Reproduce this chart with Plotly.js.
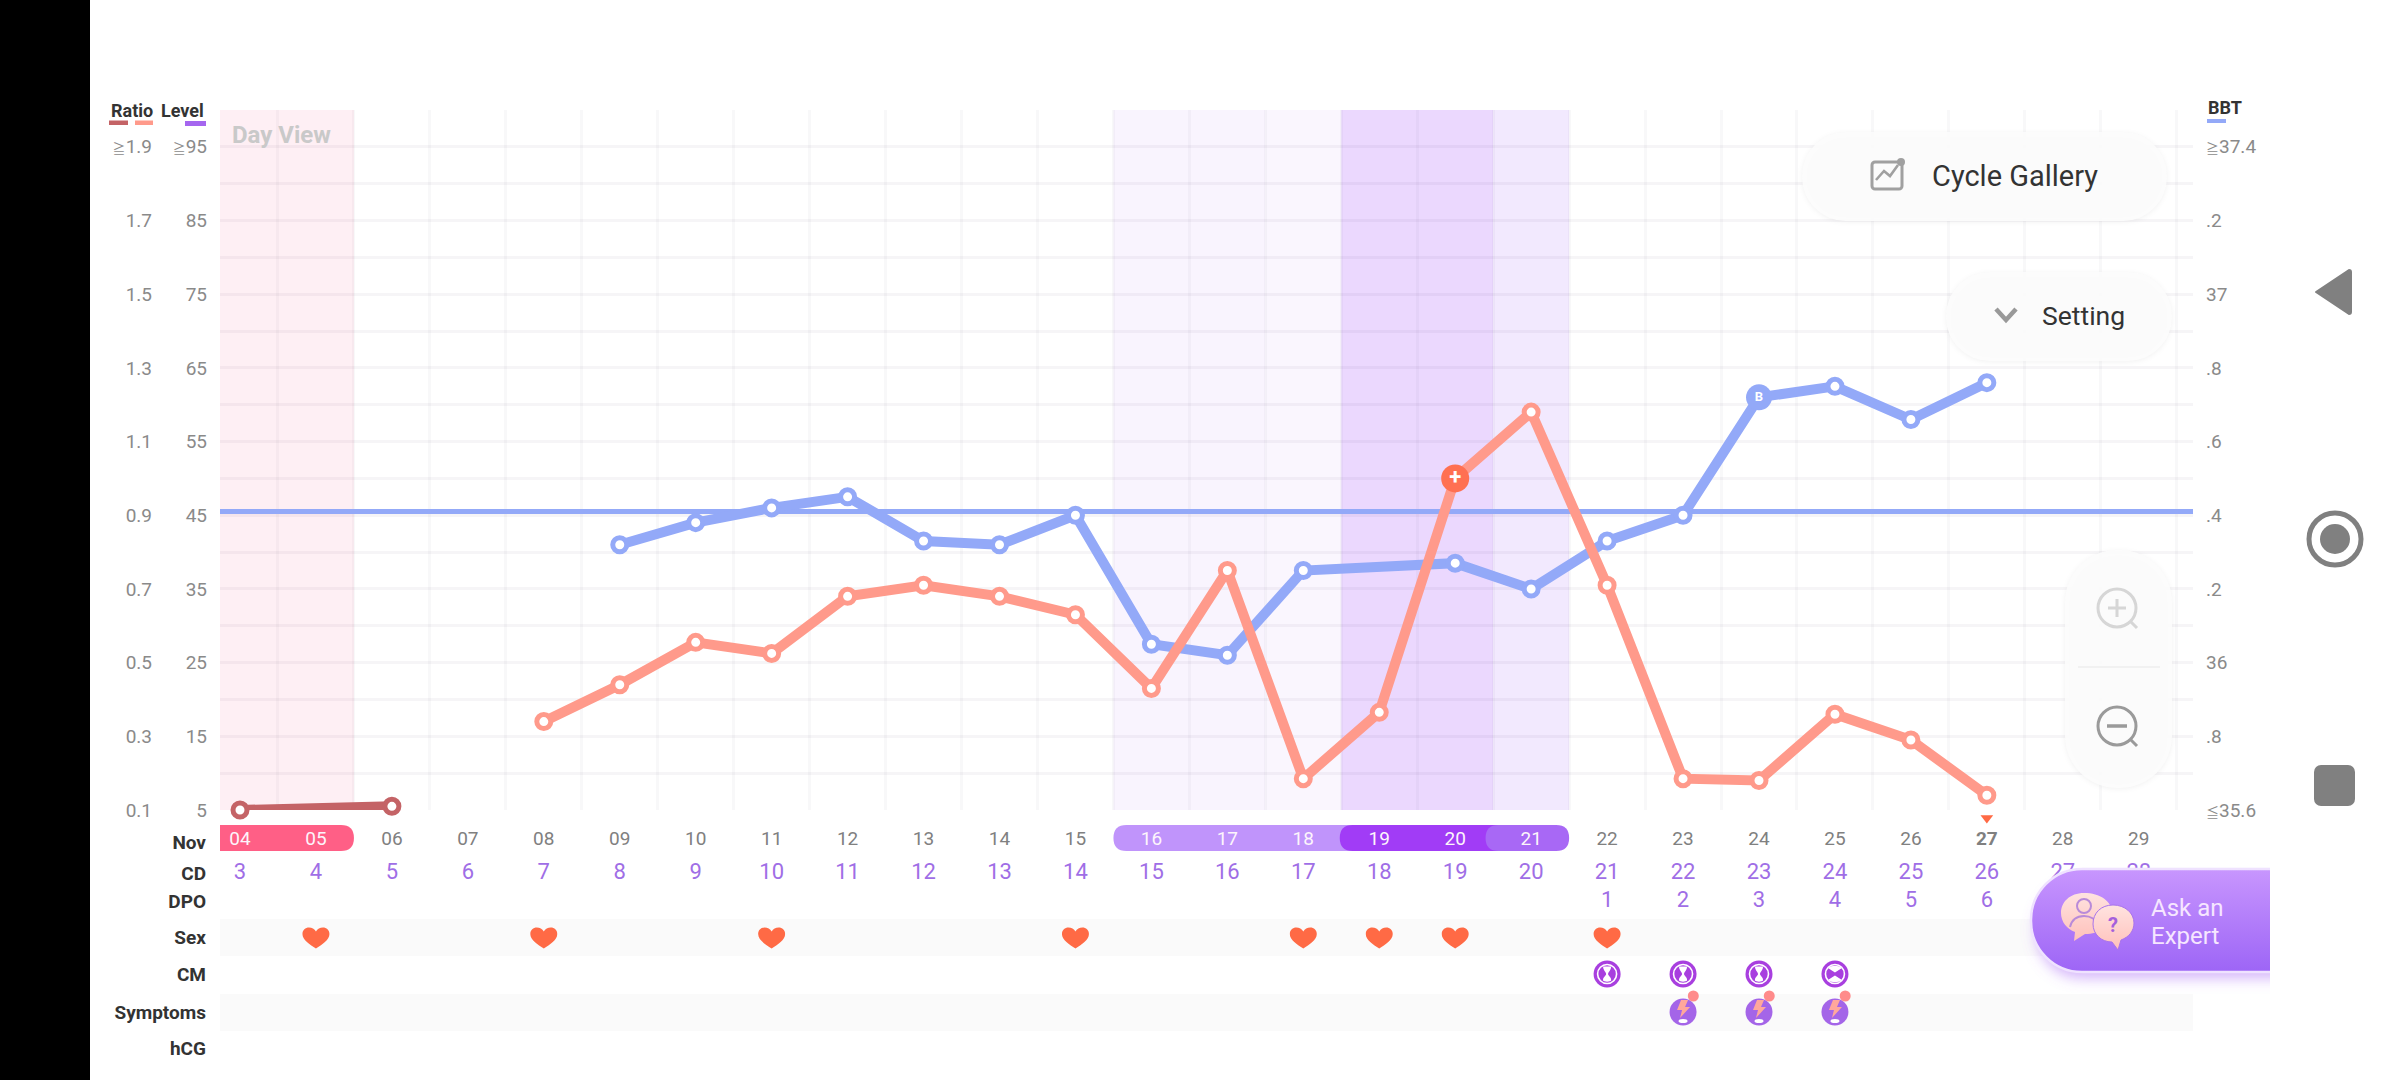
<!DOCTYPE html>
<html>
<head>
<meta charset="utf-8">
<script src="https://cdn.plot.ly/plotly-3.0.1.min.js"></script>
<style>html,body{margin:0;padding:0;background:#fff}#chart{width:2400px;height:1080px}</style>
</head>
<body>
<div id="chart"></div>
<script>
// ---------- data ----------
const days = [4,5,6,7,8,9,10,11,12,13,14,15,16,17,18,19,20,21,22,23,24,25,26,27,28,29];
const dateLabels = ['04','05','06','07','08','09','10','11','12','13','14','15','16','17','18','19','20','21','22','23','24','25','26','<b>27</b>','28','29'];
const cycleDays = [3,4,5,6,7,8,9,10,11,12,13,14,15,16,17,18,19,20,21,22,23,24,25,26,27,28];
const dpoDays = [22,23,24,25,26,27];
const dpoValues = [1,2,3,4,5,6];
const sexDays = [5,8,11,15,18,19,20,22];
const cmNarrowDays = [22,23,24];
const cmWideDays = [25];
const symptomDays = [23,24,25];
const todayDay = [27];

const ratioDarkDays = [4,6];
const ratioDark = [0.10,0.11];
const ratioDays = [8,9,10,11,12,13,14,15,16,17,18,19,20,21,22,23,24,25,26,27];
const ratioValues = [0.34,0.44,0.555,0.525,0.68,0.71,0.68,0.63,0.43,0.75,0.185,0.365,1.00,1.18,0.71,0.185,0.18,0.36,0.29,0.14];
const peakDay = [20];
const peakValue = [1.00];
const bbtDays = [9,10,11,12,13,14,15,16,17,18,20,21,22,23,24,25,26,27];
const bbtValues = [36.32,36.38,36.42,36.45,36.33,36.32,36.40,36.05,36.02,36.25,36.27,36.20,36.33,36.40,36.72,36.75,36.66,36.76];
const ovulationDay = [24];
const ovulationBbt = [36.72];
const coverLine = 36.41;

const bbtGrid = [35.6,35.7,35.8,35.9,36.0,36.1,36.2,36.3,36.4,36.5,36.6,36.7,36.8,36.9,37.0,37.1,37.2,37.3,37.4,37.5];
const GE = '<span style="font-size:13px">≧</span>', LE = '<span style="font-size:13px">≦</span>';
const bbtTickText = [LE+'35.6','','.8','','36','','.2','','.4','','.6','','.8','','37','','.2','',GE+'37.4',''];
const ratioTicks = [0.1,0.3,0.5,0.7,0.9,1.1,1.3,1.5,1.7,1.9];
const ratioTickText = ['0.1','0.3','0.5','0.7','0.9','1.1','1.3','1.5','1.7',GE+'1.9'];
const levelTicks = [5,15,25,35,45,55,65,75,85,95];
const levelTickText = ['5','15','25','35','45','55','65','75','85',GE+'95'];
const rowNames = ['Nov','CD','DPO','Sex','CM','Symptoms','hCG'];
const rowPos = [32,63,91,127,164,202,238];
const dayGrid = [4.5,5.5,6.5,7.5,8.5,9.5,10.5,11.5,12.5,13.5,14.5,15.5,16.5,17.5,18.5,19.5,20.5,21.5,22.5,23.5,24.5,25.5,26.5,27.5,28.5,29.5];

// ---------- style ----------
const FONT = 'Roboto, "Noto Sans CJK SC", "DejaVu Sans", sans-serif';
const BLUE = '#93a9f8', SALMON = '#ff9a8b', DARK = '#c46366', ORANGE = '#ff6a45', CDC = '#9f6ee6', TICK = '#8a8a8a';
const GRIDX = 'rgba(40,20,60,0.032)', GRIDY = 'rgba(40,20,60,0.045)';
const PX0 = 220, PX1 = 2193, D0 = 240, DW = 75.95;
const xRange = [4 + (PX0 - D0) / DW, 4 + (PX1 - D0) / DW];
const fx = p => p / 2400, fy = p => 1 - p / 1080;
const dateColors = days.map(d => (d <= 5 || (d >= 16 && d <= 21)) ? '#fdf5fb' : '#808080');
const rowY = name => rowPos[rowNames.indexOf(name)];

const ring = c => ({size: 14, color: '#fff', line: {color: c, width: 5}});
const fill = (arr, v) => arr.map(() => v);
const rowTrace = (x, y, extra) => Object.assign({x, y, xaxis: 'x2', yaxis: 'y2', type: 'scatter', cliponaxis: false, hoverinfo: 'skip', showlegend: false}, extra);
const cmDays = cmNarrowDays.concat(cmWideDays);

const traces = [
  {x: xRange, y: [coverLine, coverLine], xaxis: 'x', yaxis: 'y', mode: 'lines', line: {color: BLUE, width: 5}, cliponaxis: false, showlegend: false},
  {x: bbtDays, y: bbtValues, xaxis: 'x', yaxis: 'y', mode: 'lines+markers', line: {color: BLUE, width: 10}, marker: ring(BLUE), cliponaxis: false, showlegend: false},
  {x: ovulationDay, y: ovulationBbt, xaxis: 'x', yaxis: 'y', mode: 'markers+text', text: ['<b>B</b>'], textposition: 'middle center', textfont: {family: FONT, size: 13, color: '#fff'}, marker: {size: 26, color: BLUE}, cliponaxis: false, showlegend: false},
  {x: [], y: [], xaxis: 'x', yaxis: 'y3', mode: 'lines', showlegend: false},
  {x: ratioDays, y: ratioValues, xaxis: 'x', yaxis: 'y4', mode: 'lines+markers', line: {color: SALMON, width: 10}, marker: ring(SALMON), cliponaxis: false, showlegend: false},
  {x: ratioDarkDays, y: ratioDark, xaxis: 'x', yaxis: 'y4', mode: 'lines+markers', line: {color: DARK, width: 10}, marker: ring(DARK), cliponaxis: false, showlegend: false},
  {x: peakDay, y: peakValue, xaxis: 'x', yaxis: 'y4', mode: 'markers+text', text: ['<b>+</b>'], textposition: 'middle center', textfont: {family: FONT, size: 22, color: '#fff'}, marker: {size: 28, color: '#ff7052'}, cliponaxis: false, showlegend: false},
  rowTrace(days, fill(days, rowY('Nov') - 2), {mode: 'text', text: dateLabels, textposition: 'middle center', textfont: {family: FONT, size: 19, color: dateColors}}),
  rowTrace(days, fill(days, rowY('CD')), {mode: 'text', text: cycleDays.map(String), textposition: 'middle center', textfont: {family: FONT, size: 22, color: CDC}}),
  rowTrace(dpoDays, fill(dpoDays, rowY('DPO')), {mode: 'text', text: dpoValues.map(String), textposition: 'middle center', textfont: {family: FONT, size: 22, color: CDC}}),
  rowTrace(todayDay, [8], {mode: 'markers', marker: {symbol: 'triangle-down', size: 11, color: ORANGE}}),
  rowTrace(cmDays, fill(cmDays, rowY('CM')), {mode: 'markers', marker: {size: 27, color: '#a83fdf'}}),
  rowTrace(symptomDays, fill(symptomDays, rowY('Symptoms')), {mode: 'markers', marker: {size: 27, color: '#a465e8'}}),
  rowTrace(symptomDays.map(d => d + 0.135), fill(symptomDays, rowY('Symptoms') - 16), {mode: 'markers', marker: {size: 11, color: '#ff8b8b'}})
];

// ---------- decoration ----------
const svgUri = (w, h, body) => 'data:image/svg+xml;utf8,' + encodeURIComponent(`<svg xmlns="http://www.w3.org/2000/svg" width="${w}" height="${h}" viewBox="0 0 ${w} ${h}">${body}</svg>`);
const img = (x, y, w, h, body) => ({source: svgUri(w, h, body), xref: 'paper', yref: 'paper', x: fx(x), y: fy(y), sizex: w / 2400, sizey: h / 1080, xanchor: 'left', yanchor: 'top', sizing: 'stretch', layer: 'above'});
const rowIcon = (d, row, dy, w, h, body) => ({source: svgUri(w, h, body), xref: 'x2', yref: 'y2', x: d, y: rowY(row) + dy, sizex: w / DW, sizey: h, xanchor: 'center', yanchor: 'middle', sizing: 'stretch', layer: 'above'});
const panel = (w, h, r) => `<defs><filter id="s" x="-20%" y="-20%" width="140%" height="140%"><feGaussianBlur stdDeviation="2.5"/></filter></defs><rect x="10" y="11" width="${w-20}" height="${h-20}" rx="${r}" fill="#000" fill-opacity="0.05" filter="url(#s)"/><rect x="10" y="10" width="${w-20}" height="${h-20}" rx="${r}" fill="#fcfcfc" fill-opacity="0.93"/>`;
const CMRING = '<circle cx="14" cy="14" r="9.5" fill="none" stroke="#fff" stroke-width="1.6"/>';
const cmNarrow = CMRING + '<path d="M10 6.500h8c0 4-3 5.500-3 7.500s3.500 3 3 6.500c-1 1.500-7 1.500-8 0-.5-3.500 3-4.500 3-6.500s-3-3.500-3-7.500z" fill="#fff"/>';
const cmWide = CMRING + '<path d="M7 8c4-3 10-3 14 0l-7 4.500z M7 20c4 3 10 3 14 0l-7-4.500z" fill="#fff"/>';
const bolt = '<path d="M8 1h7l-3 7h5L7 19l2-8H4z" fill="#ffa79c"/><ellipse cx="10" cy="22" rx="4.500" ry="2" fill="#fff"/>';
const heart = `<path d="M14 21.500C8 17.500 .5 13 .5 7 .5 3 3.500 .5 7 .5c3 0 5.500 1.500 7 4 1.500-2.500 4-4 7-4 3.500 0 6.500 2.500 6.500 6.500 0 6-7.500 10.500-13.500 14.500z" fill="${ORANGE}"/>`;

const images = [
  img(1792, 122, 385, 109, panel(385, 109, 44)),
  img(1867, 155, 40, 38, `<path d="M32 7H8a3 3 0 0 0-3 3v21a3 3 0 0 0 3 3h24a3 3 0 0 0 3-3V10" fill="none" stroke="#a0a0a0" stroke-width="3"/><path d="M9 25l8-9 6 5 8-11" fill="none" stroke="#a0a0a0" stroke-width="2.6"/><circle cx="34" cy="7" r="4" fill="#a0a0a0"/>`),
  img(1936, 262, 246, 109, panel(246, 109, 44)),
  img(1994, 307, 24, 18, `<path d="M2 2l10 11L22 2" fill="none" stroke="#999" stroke-width="4.500"/>`),
  img(2055, 540, 127, 258, panel(127, 258, 52) + `<line x1="23" y1="127" x2="105" y2="127" stroke="#eee" stroke-width="1.500"/>`),
  img(2093, 584, 50, 50, `<circle cx="24" cy="24" r="19" fill="none" stroke="#d6d6d6" stroke-width="3"/><path d="M24 15v18M15 24h18M38 38l6 6" fill="none" stroke="#d6d6d6" stroke-width="3"/>`),
  img(2093, 702, 50, 50, `<circle cx="24" cy="24" r="19" fill="none" stroke="#9a9a9a" stroke-width="3"/><path d="M14 24h20" stroke="#9a9a9a" stroke-width="3.500"/><path d="M38 38l6 6" stroke="#9a9a9a" stroke-width="3"/>`),
  img(2018, 855, 252, 145, `<defs><linearGradient id="g" x1="0" y1="0" x2="0" y2="1"><stop offset="0" stop-color="#c896fe"/><stop offset="1" stop-color="#9d65f6"/></linearGradient><linearGradient id="b" x1="0" y1="0" x2="0" y2="1"><stop offset="0" stop-color="#ffe3e0"/><stop offset="1" stop-color="#ffc0ba"/></linearGradient><filter id="f" x="-20%" y="-30%" width="140%" height="170%"><feGaussianBlur stdDeviation="7"/></filter></defs><rect x="18" y="28" width="320" height="95" rx="46" fill="#a766f5" fill-opacity="0.5" filter="url(#f)"/><rect x="13" y="14" width="320" height="103" rx="51" fill="url(#g)" stroke="#efe2ff" stroke-width="2.500"/><path d="M66 38c-14 0-23 9-23 20 0 9 6 16 14 19l-1 9 11-7c14 0 27-7 27-21 0-12-12-20-28-20z" fill="url(#b)"/><circle cx="66" cy="51" r="7" fill="none" stroke="#b98ad9" stroke-width="2"/><path d="M52 72c2-8 8-11 14-11s12 3 14 10" fill="none" stroke="#b98ad9" stroke-width="2"/><path d="M95 50c-12 0-20 8-20 19 0 10 8 18 19 18l6 8 3-10c8-3 13-9 13-17 0-10-9-18-21-18z" fill="url(#b)" stroke="#a873ec" stroke-width="1"/>`),
  img(2307, 262, 50, 60, `<path d="M9 30L42 8a2 2 0 0 1 2 2v40a2 2 0 0 1-2 2z" fill="#808080" stroke="#808080" stroke-width="2" stroke-linejoin="round"/>`),
  img(2300, 504, 70, 70, `<circle cx="35" cy="35" r="26" fill="none" stroke="#808080" stroke-width="5"/><circle cx="35" cy="35" r="15" fill="#808080"/>`),
  img(2310, 761, 50, 50, `<rect x="4" y="4" width="41" height="41" rx="7" fill="#808080"/>`)
].concat(
  sexDays.map(d => rowIcon(d, 'Sex', 1, 28, 22, heart)),
  cmNarrowDays.map(d => rowIcon(d, 'CM', 0, 28, 28, cmNarrow)),
  cmWideDays.map(d => rowIcon(d, 'CM', 0, 28, 28, cmWide)),
  symptomDays.map(d => rowIcon(d, 'Symptoms', 0, 20, 26, bolt))
);

// ---------- shapes ----------
const RW = 13 / DW;
const pill = (a, b, c, roundL, roundR) => {
  const t = 15, m = 41, r = 13, rx = RW;
  const left = roundL ? `M${a+rx},${t} Q${a},${t} ${a},${t+r} Q${a},${m} ${a+rx},${m}` : `M${a},${t} L${a},${m}`;
  const right = roundR ? `L${b-rx},${m} Q${b},${m} ${b},${m-r} Q${b},${t} ${b-rx},${t} Z` : `L${b},${m} L${b},${t} Z`;
  return {type: 'path', xref: 'x2', yref: 'y2', path: left + ' ' + right, fillcolor: c, line: {width: 0}, layer: 'between'};
};
const band = (a, b, c) => ({type: 'rect', xref: 'x', yref: 'y domain', x0: a, x1: b, y0: 0, y1: 1, fillcolor: c, line: {width: 0}, layer: 'below'});
const stripe = name => ({type: 'rect', xref: 'x2', yref: 'y2', x0: xRange[0], x1: xRange[1], y0: rowY(name) - 18, y1: rowY(name) + 19, fillcolor: '#fafafa', line: {width: 0}, layer: 'below'});
const bar = (x0, x1, y0, y1, c) => ({type: 'rect', xref: 'paper', yref: 'paper', x0: fx(x0), x1: fx(x1), y0: fy(y0), y1: fy(y1), fillcolor: c, line: {width: 0}, layer: 'above'});

const shapes = [
  band(xRange[0], 5.5, '#feeff4'),
  band(15.5, 17.5, '#f9f4fe'), band(17.5, 18.5, '#faf6fe'),
  band(18.5, 20.5, '#ebd8fe'), band(20.5, 21.5, '#f2e9fe'),
  stripe('Sex'), stripe('Symptoms'),
  pill(xRange[0], 5.5, '#ff5f86', false, true),
  pill(15.5, 18.8, '#c094fb', true, false),
  pill(18.48, 20.7, '#a13cf6', true, false),
  pill(20.4, 21.5, '#a868f5', true, true),
  bar(109, 128, 120.5, 125, DARK), bar(135, 153, 120.5, 125, SALMON), bar(185, 206, 121, 126, '#a566ef'),
  bar(2207, 2226, 119, 123, BLUE),
  bar(0, 90, 0, 1080, '#000000')
];

// ---------- free text ----------
const note = (x, y, text, size, color, anchor, bold) => ({xref: 'paper', yref: 'paper', x: fx(x), y: fy(y), text: bold ? `<b>${text}</b>` : text, showarrow: false, xanchor: anchor, yanchor: 'middle', font: {family: FONT, size, color}});
const annotations = [
  note(109, 110, 'Ratio', 18, '#333', 'left', true),
  note(206, 110, 'Level', 18, '#333', 'right', true),
  note(2206, 108, 'BBT', 18, '#333', 'left', true),
  note(230, 135, 'Day View', 24, '#c9c9c9', 'left', true),
  note(1930, 176, 'Cycle Gallery', 29, '#333', 'left'),
  note(2040, 316, 'Setting', 26.500, '#333', 'left'),
  note(2149, 908, 'Ask an', 24, '#f6e6ff', 'left'),
  note(2149, 936, 'Expert', 24, '#f6e6ff', 'left'),
  note(2113, 925, '?', 20, '#a560dc', 'center', true)
];

const noGrid = {showgrid: false, zeroline: false, showline: false, ticklen: 0};
const layout = {
  width: 2400, height: 1080, autosize: false,
  margin: {l: 0, r: 0, t: 0, b: 0, pad: 0},
  paper_bgcolor: '#fff', plot_bgcolor: 'rgba(0,0,0,0)',
  showlegend: false, hovermode: false,
  font: {family: FONT},
  xaxis: {domain: [fx(PX0), fx(PX1)], range: xRange, anchor: 'y', tickmode: 'array', tickvals: dayGrid, showticklabels: false, showgrid: true, gridcolor: GRIDX, gridwidth: 3, zeroline: false, showline: false, ticklen: 0, fixedrange: true},
  xaxis2: {domain: [fx(PX0), fx(PX1)], range: xRange, anchor: 'y2', visible: false, fixedrange: true},
  yaxis: Object.assign({}, noGrid, {domain: [fy(810), fy(110)], range: [35.6, 37.5], anchor: 'x', side: 'right', tickmode: 'array', tickvals: bbtGrid, ticktext: bbtTickText, showgrid: true, gridcolor: GRIDY, gridwidth: 3, tickfont: {family: FONT, size: 19, color: TICK}, ticklabelstandoff: 12, fixedrange: true}),
  yaxis2: Object.assign({}, noGrid, {domain: [0, fy(810)], range: [270, 0], anchor: 'x2', side: 'left', tickmode: 'array', tickvals: rowPos, ticktext: rowNames.map(n => `<b>${n}</b>`), tickfont: {family: FONT, size: 19, color: '#333'}, ticklabelstandoff: 13, fixedrange: true}),
  yaxis3: Object.assign({}, noGrid, {domain: [fy(810), fy(110)], range: [5, 100], anchor: 'x', overlaying: 'y', side: 'left', tickmode: 'array', tickvals: levelTicks, ticktext: levelTickText, tickfont: {family: FONT, size: 19, color: TICK}, ticklabelstandoff: 12, fixedrange: true}),
  yaxis4: Object.assign({}, noGrid, {domain: [fy(810), fy(110)], range: [0.1, 2.0], anchor: 'x', overlaying: 'y', side: 'left', tickmode: 'array', tickvals: ratioTicks, ticktext: ratioTickText, tickfont: {family: FONT, size: 19, color: TICK}, ticklabelstandoff: 67, fixedrange: true}),
  shapes, images, annotations
};
Plotly.newPlot('chart', traces, layout, {staticPlot: true, displayModeBar: false, responsive: false});
</script>
</body>
</html>
